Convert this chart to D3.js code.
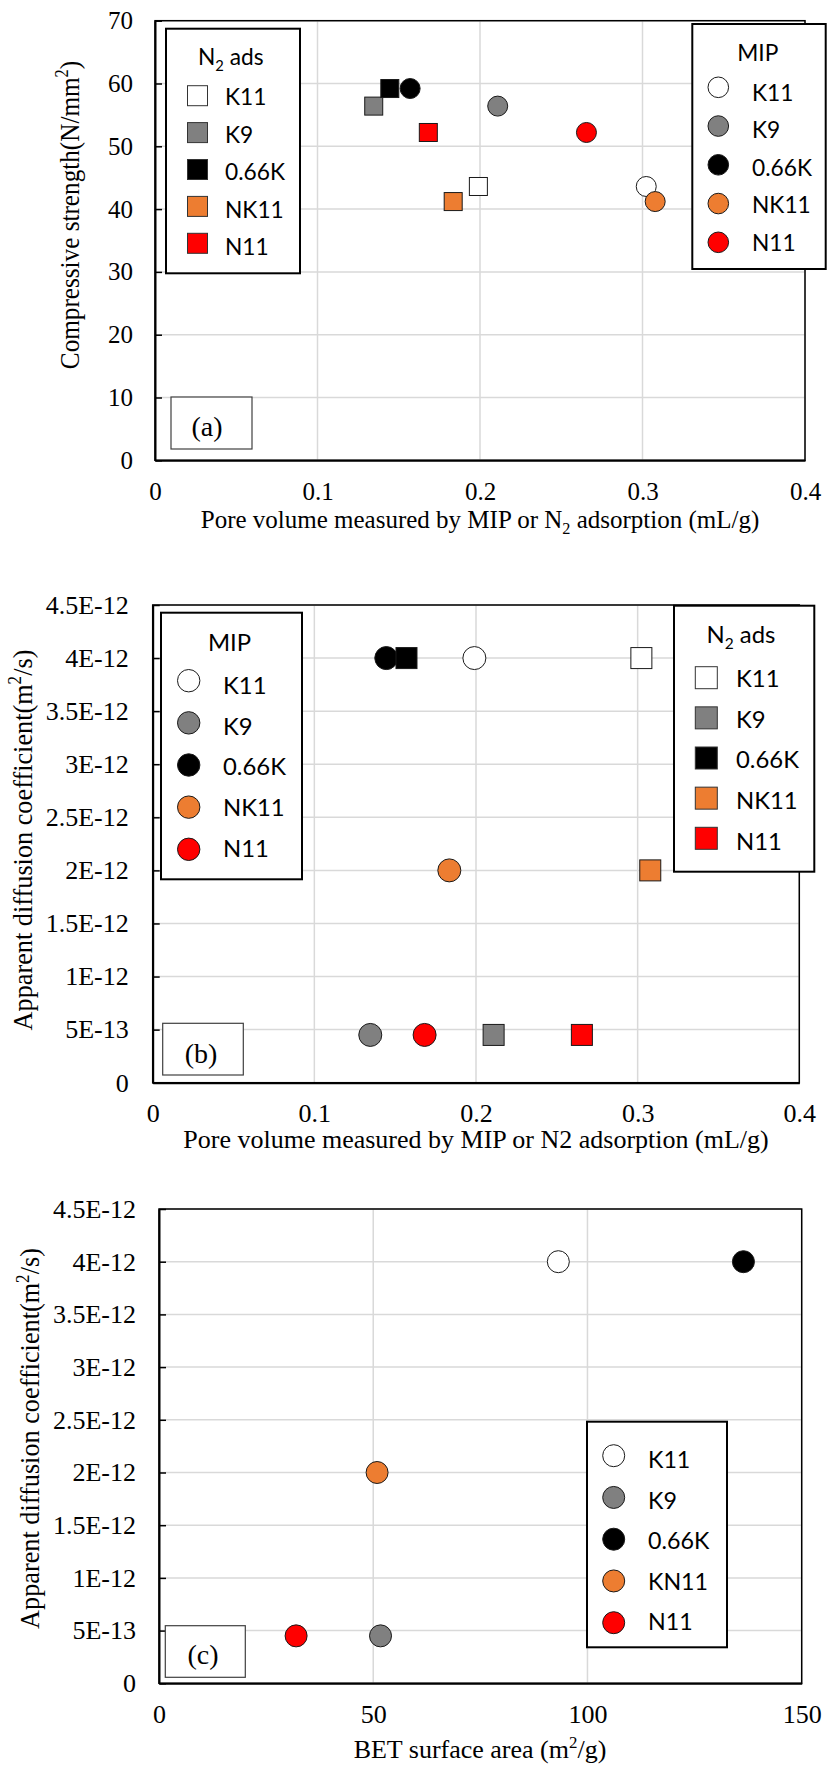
<!DOCTYPE html>
<meta charset="utf-8">
<style>
    body { margin: 0; background: #fff; }
    .serif { font-family: 'Times New Roman', 'Liberation Serif', serif; }
    .sans { font-family: Lato, 'Open Sans', sans-serif; }
    .grid line { stroke: #d9d9d9; stroke-width: 1.5; }
</style>
<body>
<script src="https://d3js.org/d3.v7.min.js"></script>
<script>
    // samples, same order in every chart
    var samples = ["K11", "K9", "0.66K", "NK11", "N11"];
    var samplesC = ["K11", "K9", "0.66K", "KN11", "N11"];
    var fills = ["#ffffff", "#808080", "#000000", "#ed7d31", "#ff0000"];

    // (a) compressive strength vs pore volume
    var strength = [43.6, 56.4, 59.2, 41.2, 52.2];
    var poreA_N2 = [0.199, 0.1346, 0.1445, 0.1835, 0.1682];
    var poreA_MIP = [0.3023, 0.2109, 0.157, 0.3078, 0.2655];

    // (b) diffusion coefficient vs pore volume
    var diffusion = [4e-12, 4.5e-13, 4e-12, 2e-12, 4.5e-13];
    var poreB_MIP = [0.199, 0.1346, 0.1445, 0.1835, 0.1682];
    var poreB_N2 = [0.3023, 0.2109, 0.157, 0.3078, 0.2655];

    // (c) diffusion coefficient vs BET surface area
    var betArea = [93.2, 51.7, 136.4, 50.9, 32];

    // ticks
    var poreTicks = [0, 0.1, 0.2, 0.3, 0.4];
    var poreTickLabels = ["0", "0.1", "0.2", "0.3", "0.4"];
    var strengthTicks = [0, 10, 20, 30, 40, 50, 60, 70];
    var strengthTickLabels = ["0", "10", "20", "30", "40", "50", "60", "70"];
    var diffTicks = [0, 5e-13, 1e-12, 1.5e-12, 2e-12, 2.5e-12, 3e-12, 3.5e-12, 4e-12, 4.5e-12];
    var diffTickLabels = ["0", "5E-13", "1E-12", "1.5E-12", "2E-12", "2.5E-12", "3E-12", "3.5E-12", "4E-12", "4.5E-12"];
    var betTicks = [0, 50, 100, 150];
    var betTickLabels = ["0", "50", "100", "150"];

    var svg = d3.select("body").append("svg")
        .attr("width", 827)
        .attr("height", 1769);

    // font size giving a sample string the wanted width
    function fitFont(sample, target) {
        var t = svg.append("text").attr("class", "sans").style("font-size", "100px").text(sample);
        var w = t.node().getComputedTextLength();
        t.remove();
        return 100 * target / w;
    }

    // text with sub/superscript parts
    function rich(t, parts, fs) {
        var shift = 0;
        parts.forEach(function (p) {
            var s = p[1] === "sup" ? -0.38 * fs : (p[1] === "sub" ? 0.25 * fs : 0);
            t.append("tspan")
                .attr("dy", s - shift)
                .style("font-size", p[1] ? (fs * 0.65) + "px" : null)
                .text(p[0]);
            shift = s;
        });
    }

    function panel(o) {
        var x = d3.scaleLinear().domain(o.xDomain).range([o.left, o.right]);
        var y = d3.scaleLinear().domain(o.yDomain).range([o.bottom, o.top]);
        var g = svg.append("g");

        g.append("g").attr("class", "grid").selectAll("line")
            .data(o.xTicks).join("line")
            .attr("x1", function (d) { return x(d); })
            .attr("x2", function (d) { return x(d); })
            .attr("y1", o.top).attr("y2", o.bottom);
        g.append("g").attr("class", "grid").selectAll("line")
            .data(o.yTicks).join("line")
            .attr("y1", function (d) { return y(d); })
            .attr("y2", function (d) { return y(d); })
            .attr("x1", o.left).attr("x2", o.right);

        g.append("rect")
            .attr("x", o.left).attr("y", o.top)
            .attr("width", o.right - o.left).attr("height", o.bottom - o.top)
            .attr("fill", "none").attr("stroke", "#000").attr("stroke-width", 1.5);

        var ya = g.append("g")
            .attr("transform", "translate(" + o.left + ",0)")
            .call(d3.axisLeft(y).tickValues(o.yTicks)
                .tickFormat(function (d, i) { return o.yTickLabels[i]; })
                .tickSizeInner(-7).tickSizeOuter(0).tickPadding(o.yPad));
        ya.select(".domain").attr("stroke-width", 2);
        ya.selectAll(".tick line").attr("stroke-width", 1.5);
        ya.selectAll("text").attr("class", "serif").style("font-size", o.fs + "px").attr("fill", "#000");

        var xa = g.append("g")
            .attr("transform", "translate(0," + o.bottom + ")")
            .call(d3.axisBottom(x).tickValues(o.xTicks)
                .tickFormat(function (d, i) { return o.xTickLabels[i]; })
                .tickSize(0).tickPadding(o.xPad));
        xa.select(".domain").attr("stroke-width", 2);
        xa.selectAll("text").attr("class", "serif").style("font-size", o.fs + "px").attr("fill", "#000");

        var xl = g.append("text").attr("class", "serif")
            .attr("x", o.xLabel[0]).attr("y", o.xLabel[1])
            .attr("text-anchor", "middle").style("font-size", o.fs + "px");
        rich(xl, o.xLabelText, o.fs);

        // the y titles in the figure are a little narrower than plain Times
        var yl = g.append("text").attr("class", "serif")
            .attr("transform", "translate(" + o.yLabel[0] + "," + o.yLabel[1] + ") rotate(-90) scale(" + o.yLabelSqueeze + ",1)")
            .attr("text-anchor", "middle").style("font-size", o.yLabelFs + "px");
        rich(yl, o.yLabelText, o.yLabelFs);

        return { x: x, y: y, g: g };
    }

    function series(p, xs, ys, shape, size) {
        var sel = p.g.append("g").selectAll("*").data(xs).join(shape === "circle" ? "circle" : "rect");
        if (shape === "circle") {
            sel.attr("cx", function (d) { return p.x(d); })
                .attr("cy", function (d, i) { return p.y(ys[i]); })
                .attr("r", size);
        } else {
            sel.attr("x", function (d) { return p.x(d) - size / 2; })
                .attr("y", function (d, i) { return p.y(ys[i]) - size / 2; })
                .attr("width", size).attr("height", size);
        }
        sel.attr("fill", function (d, i) { return fills[i]; })
            .attr("stroke", "#1a1a1a").attr("stroke-width", 1);
    }

    function labelBox(b, txt) {
        svg.append("rect")
            .attr("x", b[0]).attr("y", b[1]).attr("width", b[2] - b[0]).attr("height", b[3] - b[1])
            .attr("fill", "#fff").attr("stroke", "#404040").attr("stroke-width", 1.2);
        svg.append("text").attr("class", "serif")
            .attr("x", b[4]).attr("y", b[5]).attr("text-anchor", "middle")
            .style("font-size", "28px").text(txt);
    }

    function legend(o) {
        var g = svg.append("g");
        g.append("rect")
            .attr("x", o.box[0]).attr("y", o.box[1])
            .attr("width", o.box[2] - o.box[0]).attr("height", o.box[3] - o.box[1])
            .attr("fill", "#fff").attr("stroke", "#000").attr("stroke-width", 2);
        if (o.title) {
            var t = g.append("text").attr("class", "sans")
                .attr("x", o.title[0]).attr("y", o.title[1]).attr("text-anchor", "middle")
                .style("font-size", o.fs + "px");
            rich(t, o.titleText, o.fs);
        }
        o.names.forEach(function (name, i) {
            var cy = o.my0 + i * o.mdy;
            if (o.shape === "circle") {
                g.append("circle").attr("cx", o.mx).attr("cy", cy).attr("r", o.size)
                    .attr("fill", fills[i]).attr("stroke", "#1a1a1a").attr("stroke-width", 1);
            } else {
                g.append("rect").attr("x", o.mx - o.size / 2).attr("y", cy - o.size / 2)
                    .attr("width", o.size).attr("height", o.size)
                    .attr("fill", fills[i]).attr("stroke", "#333").attr("stroke-width", 1);
            }
            g.append("text").attr("class", "sans")
                .attr("x", o.tx).attr("y", o.ty0 + i * o.tdy)
                .style("font-size", o.fs + "px").text(name);
        });
    }

    // ---- (a)
    var pa = panel({
        left: 155, right: 805, top: 20.7, bottom: 460.3,
        xDomain: [0, 0.4], xTicks: poreTicks, xTickLabels: poreTickLabels,
        yDomain: [0, 70], yTicks: strengthTicks, yTickLabels: strengthTickLabels,
        fs: 25, yPad: 22, xPad: 22,
        xLabel: [480, 528],
        xLabelText: [["Pore volume measured by MIP or N"], ["2", "sub"], [" adsorption (mL/g)"]],
        yLabel: [79, 215], yLabelFs: 28, yLabelSqueeze: 0.9,
        yLabelText: [["Compressive strength(N/mm"], ["2", "sup"], [")"]]
    });
    series(pa, poreA_N2, strength, "square", 18);
    series(pa, poreA_MIP, strength, "circle", 10);
    labelBox([171, 397, 252, 449, 207, 436], "(a)");
    var fsA = fitFont("0.66K", 60);
    legend({
        box: [166, 28.7, 300, 273.3], title: [230.8, 65], titleText: [["N"], ["2", "sub"], [" ads"]],
        names: samples, shape: "square", size: 20, mx: 197.5, my0: 95.7, mdy: 36.9,
        tx: 225, ty0: 105, tdy: 37.5, fs: fsA
    });
    legend({
        box: [692.3, 24, 825.7, 269], title: [757.8, 61], titleText: [["MIP"]],
        names: samples, shape: "circle", size: 10.3, mx: 718.3, my0: 87.3, mdy: 38.75,
        tx: 752, ty0: 100.7, tdy: 37.5, fs: fsA
    });

    // ---- (b)
    var pb = panel({
        left: 152.7, right: 799.3, top: 605, bottom: 1082.7,
        xDomain: [0, 0.4], xTicks: poreTicks, xTickLabels: poreTickLabels,
        yDomain: [0, 4.5e-12], yTicks: diffTicks, yTickLabels: diffTickLabels,
        fs: 26, yPad: 24, xPad: 21,
        xLabel: [476, 1148.3],
        xLabelText: [["Pore volume measured by MIP or N2 adsorption (mL/g)"]],
        yLabel: [31.5, 840], yLabelFs: 27.5, yLabelSqueeze: 0.955,
        yLabelText: [["Apparent diffusion coefficient(m"], ["2", "sup"], ["/s)"]]
    });
    series(pb, poreB_MIP, diffusion, "circle", 11.5);
    series(pb, poreB_N2, diffusion, "square", 21);
    labelBox([162.7, 1023.3, 243.3, 1075, 201, 1062.7], "(b)");
    var fsB = fitFont("0.66K", 63);
    legend({
        box: [161, 612.7, 302, 879.3], title: [229.5, 651], titleText: [["MIP"]],
        names: samples, shape: "circle", size: 11.2, mx: 188.7, my0: 680.7, mdy: 42.15,
        tx: 223, ty0: 694, tdy: 40.7, fs: fsB
    });
    legend({
        box: [674, 605.7, 814.3, 871.7], title: [741, 643.3], titleText: [["N"], ["2", "sub"], [" ads"]],
        names: samples, shape: "square", size: 22, mx: 706.3, my0: 677.7, mdy: 40.15,
        tx: 736, ty0: 686.7, tdy: 40.8, fs: fsB
    });

    // ---- (c)
    var pc = panel({
        left: 159, right: 801.7, top: 1209, bottom: 1683.3,
        xDomain: [0, 150], xTicks: betTicks, xTickLabels: betTickLabels,
        yDomain: [0, 4.5e-12], yTicks: diffTicks, yTickLabels: diffTickLabels,
        fs: 26, yPad: 23, xPad: 21,
        xLabel: [480, 1757.7],
        xLabelText: [["BET surface area (m"], ["2", "sup"], ["/g)"]],
        yLabel: [39, 1438.5], yLabelFs: 27.5, yLabelSqueeze: 0.955,
        yLabelText: [["Apparent diffusion coefficient(m"], ["2", "sup"], ["/s)"]]
    });
    series(pc, betArea, diffusion, "circle", 11);
    labelBox([165.3, 1625.7, 245.3, 1677.3, 203, 1664.3], "(c)");
    legend({
        box: [587, 1421.7, 727, 1647.3],
        names: samplesC, shape: "circle", size: 11, mx: 613.7, my0: 1455.7, mdy: 41.75,
        tx: 648, ty0: 1468.3, tdy: 40.4, fs: fitFont("0.66K", 61.3)
    });
</script>
</body>
